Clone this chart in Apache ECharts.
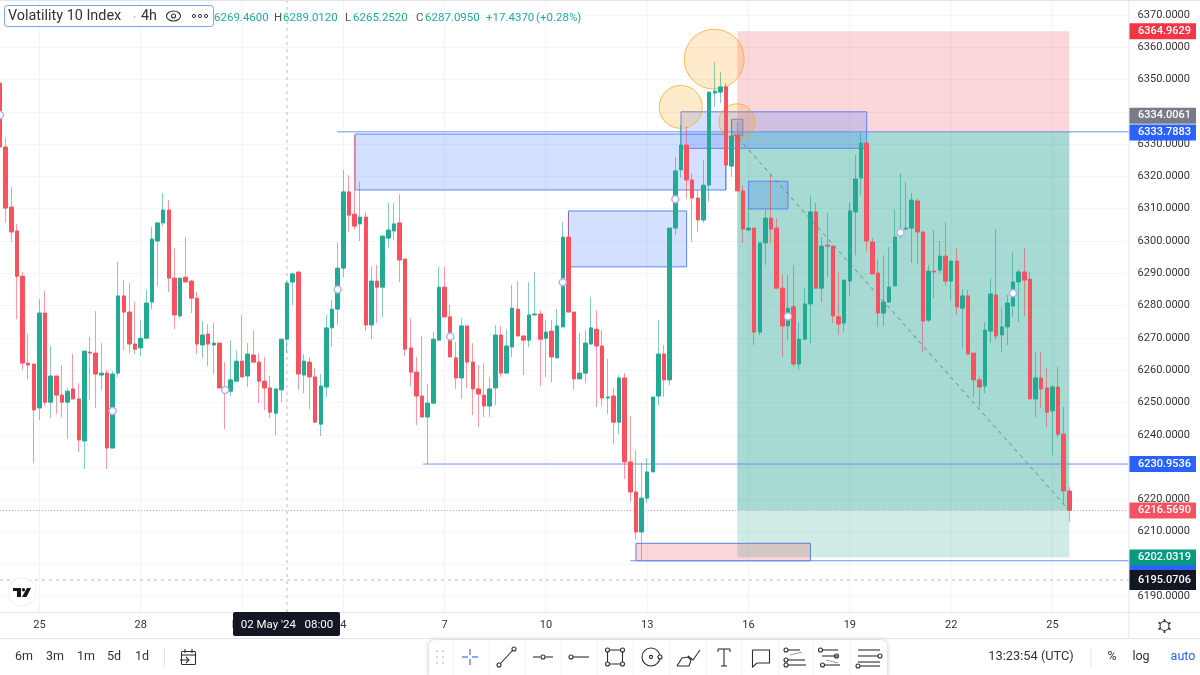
<!DOCTYPE html>
<html>
<head>
<meta charset="utf-8">
<title>Volatility 10 Index</title>
<style>html,body{margin:0;padding:0;background:#fff}#chart{width:1200px;height:675px}</style>
<script src="https://cdn.jsdelivr.net/npm/echarts@6/dist/echarts.min.js"></script>
</head>
<body>
<div id="chart"></div>
<script>
// 4h bars
const opens = [
  6348.9,6329.1,6310.5,6303.1,6289.1,6262.2,6261.9,6248.3,6277.7,6250.1,
  6258.2,6252.3,6250.1,6254.2,6251.1,6238.1,6265.6,6265.3,6258.5,6259.1,
  6235.9,6259.1,6283,6278,6268.1,6266.9,6269.9,6281.1,6300,6305.6,
  6309.6,6288.5,6276.8,6288.8,6287.6,6282.3,6267.8,6271.2,6267.8,6268.4,
  6254.5,6253.5,6256.6,6262.8,6258.2,6264.7,6262.5,6256.6,6254.5,6246.7,
  6253.9,6269.6,6287.3,6290.4,6258.5,6262.5,6257.9,6243.3,6254.8,6273.1,
  6278.9,6291.6,6315.2,6308.3,6305.3,6307.4,6274,6287.6,6285.7,6300.9,
  6303.1,6305.6,6294.4,6266.9,6259.4,6252,6245.5,6249.8,6269.3,6285.7,
  6276.5,6263.8,6257.6,6273.7,6262.5,6254.2,6252.3,6248.9,6254.5,6270.9,
  6259.1,6267.2,6278.9,6270.6,6269.3,6277.1,6277.4,6269.9,6272.1,6263.8,
  6273.4,6301.2,6278,6257.3,6259.1,6268.1,6272.7,6267.5,6251.4,6252,
  6243.9,6257.6,6231.6,6222.3,6209.9,6220.4,6228.5,6252,6265,6257,
  6304,6322,6329.7,6318.9,6313.3,6306.5,6317.3,6345.8,6346.1,6347.7,
  6323.2,6332.8,6315.5,6303.4,6304,6271.8,6299.4,6307.1,6304,6285.4,
  6273.7,6279.6,6261.9,6269.6,6280.5,6309,6285.4,6298.7,6298.4,6276.5,
  6274.6,6287.6,6309,6319.5,6330.3,6299.7,6290.1,6277.7,6281.1,6286.1,
  6302.5,6303.7,6304,6312.4,6302.8,6275.5,6290.7,6291,6295.3,6287.6,
  6293.8,6279.2,6283,6265.3,6257,6255.1,6272.1,6283.3,6270.9,6273.4,
  6279.9,6287.3,6290.4,6288.2,6251.1,6257.6,6254.5,6247.4,6254.8,6240.2,
  6222.6
];
const closes = [
  6329.1,6310.2,6302.8,6289.1,6262.2,6261.6,6247.7,6277.7,6250.1,6258.2,
  6252.3,6250.1,6253.5,6251.1,6238.4,6265.9,6265.3,6258.8,6259.1,6235.9,
  6258.8,6283,6278,6268.1,6266.5,6269.9,6280.8,6300.6,6305.6,6309.6,
  6288.5,6277.1,6288.5,6287.3,6282.3,6268.1,6270.9,6268.1,6268.4,6254.5,
  6253.2,6257,6262.8,6257.9,6265,6262.5,6256.6,6254.5,6247,6254.2,
  6269.6,6287,6289.8,6258.8,6262.8,6257.9,6243.9,6255.1,6273.1,6278.9,
  6291.6,6315.2,6308,6304.6,6307.4,6274,6287.6,6285.7,6301.5,6303.4,
  6305.3,6294.1,6266.5,6259.4,6252,6245.5,6249.8,6269.6,6285.7,6276.5,
  6264.1,6257.6,6273.7,6262.5,6254.2,6252.6,6248.9,6254.2,6270.9,6259.1,
  6267.5,6279.2,6270.6,6269.3,6277.1,6277.4,6269.6,6271.8,6264.1,6273.7,
  6301.2,6278,6257.3,6259.1,6268.4,6273.1,6267.5,6251.4,6251.7,6243.9,
  6257.6,6231.6,6222.3,6209.9,6220.4,6228.5,6251.7,6265,6257,6304,
  6321.7,6329.7,6318.9,6313.3,6306.5,6317.3,6346.1,6346.4,6347.7,6323.5,
  6332.5,6315.5,6303.7,6304,6271.8,6299.4,6307.1,6303.7,6285.4,6273.7,
  6279.2,6261.9,6269.6,6280.5,6309,6285.4,6298.4,6298.4,6276.8,6274.3,
  6287.9,6309.3,6319.2,6330.3,6300,6289.8,6277.7,6281.1,6285.7,6301.2,
  6302.8,6304,6312.7,6302.8,6275.2,6290.7,6290.4,6295.3,6287.6,6293.8,
  6279.6,6283,6265,6257,6254.8,6272.4,6283.6,6270.6,6273.4,6280.8,
  6287.3,6290.4,6287.9,6251.1,6257.6,6254.2,6247,6254.8,6240.2,6222.6,
  6216.6
];
const highs = [
  6349.5,6331.9,6316.7,6305.3,6290.4,6271.2,6261.9,6282,6284.5,6267.5,
  6258.2,6261.6,6254.5,6265,6256,6265.9,6270.3,6278.3,6268.4,6260.1,
  6259.7,6293.5,6287.9,6287,6281.1,6275.5,6284.8,6304.3,6305.6,6314.8,
  6312.7,6297.8,6288.5,6301.2,6287.9,6284.2,6275.2,6274.3,6274.6,6268.4,
  6262.5,6269.3,6266.2,6277.1,6268.4,6272.4,6265.3,6264.1,6258.2,6254.2,
  6269.6,6287.6,6290.1,6290.4,6265,6264.1,6260.7,6258.8,6277.1,6281.7,
  6299.4,6322,6320.4,6332.8,6318.3,6309,6292.2,6292.6,6301.8,6311.8,
  6311.8,6314.5,6294.4,6276.1,6264.1,6270.6,6255.7,6271.8,6291.9,6291.9,
  6280.2,6268.7,6276.1,6273.7,6268.4,6261.6,6262.2,6257.9,6274,6273.7,
  6272.4,6286.4,6287.6,6270.6,6287.3,6290.4,6278.6,6275.5,6275.5,6278.9,
  6305.9,6308.7,6278,6271.5,6272.4,6282.6,6278.6,6272.4,6263.5,6254.5,
  6258.5,6259.1,6245.8,6235.3,6231.3,6232.8,6251.7,6275.5,6267.8,6304,
  6326,6335.9,6335.3,6321,6315.8,6325,6346.1,6355.4,6352.3,6348.9,
  6337.4,6336.8,6317.3,6309.9,6304,6299.4,6309.6,6321,6307.1,6289.5,
  6289.5,6292.6,6274.9,6285.4,6313.9,6311.8,6301.2,6308.7,6298.4,6290.1,
  6287.9,6311.8,6326.6,6333.4,6330.3,6300.9,6294.4,6295.6,6298.1,6309.6,
  6321,6318.3,6314.8,6313.3,6302.8,6292.6,6303.4,6300,6305.9,6293.8,
  6297.8,6285.1,6284.8,6265.3,6257.9,6274.9,6288.5,6303.7,6279.2,6283.3,
  6296.6,6291.3,6297.8,6290.4,6265.6,6265.6,6260.7,6255.4,6261,6248.6,
  6223.8
];
const lows = [
  6328.2,6305.6,6299.7,6275.8,6260.1,6257.3,6231.3,6244.6,6248.9,6245.2,
  6246.4,6245.5,6238.7,6251.1,6234.7,6229.4,6250.8,6248.3,6253.9,6229.4,
  6235.9,6257.9,6266.2,6265.3,6265,6264.4,6269.9,6278.9,6286.1,6304.6,
  6284.2,6272.7,6276.1,6287.3,6277.7,6265,6263.8,6261.3,6258.8,6254.5,
  6241.8,6252,6256.6,6257.9,6254.8,6262.5,6249.8,6247.7,6245.2,6239.9,
  6250.1,6265.3,6280.2,6253.9,6252.9,6248,6243.9,6239.6,6251.7,6267.2,
  6274,6288.8,6302.8,6303.7,6300,6272.1,6269.6,6274.6,6276.5,6297.8,
  6300.3,6287.3,6264.4,6255.1,6243,6245.2,6231,6249.5,6269.3,6276.5,
  6264.1,6254.2,6251.1,6254.5,6246.1,6242.4,6245.5,6245.5,6249.2,6257.9,
  6259.1,6264.1,6270.6,6258.5,6267.2,6277.1,6255.1,6257.9,6256.3,6263.8,
  6273.4,6278,6253.9,6257.3,6256,6268.1,6248.6,6248.9,6246.4,6237.1,
  6240.2,6226.3,6219.2,6207.7,6201.2,6218.9,6228.5,6249.2,6251.7,6255.4,
  6301.8,6319.5,6313,6299.7,6302.8,6305.6,6312.1,6341.5,6342.7,6315.8,
  6319.8,6315.5,6299.4,6303.1,6267.8,6270.9,6292.6,6299.4,6285.4,6264.1,
  6269.3,6261,6260.1,6269.3,6268.4,6285.4,6281.1,6288.8,6274.6,6270.9,
  6271.8,6283,6295.6,6314.2,6296.9,6289.8,6273.4,6273.7,6281.1,6286.1,
  6300.9,6303.4,6293.2,6292.9,6265.6,6274.9,6282.3,6289.8,6286.1,6281.7,
  6277.1,6266.9,6265,6251.7,6248.6,6252.9,6268.4,6269.3,6265.6,6267.8,
  6276.5,6274.9,6276.8,6251.1,6245.5,6248.3,6242.4,6233.7,6239,6218.3,
  6213
];

// time axis: day ticks every 18 bars
const tickIndexes = [7, 25, 43, 61, 79, 97, 115, 133, 151, 169, 187];
const tickLabels = ['25', '28', 'May', '4', '7', '10', '13', '16', '19', '22', '25'];
// price labels the chart hides because a tag sits on them
const hiddenPriceLabels = [6340, 6230, 6200];

// dividend style markers on the bars
const markerBars = [0, 20, 40, 60, 80, 100, 120, 140, 160, 180];
const markerPrices = [6339, 6247.4, 6253.9, 6285, 6270.4, 6287.2, 6312.9, 6276.6, 6302.6, 6283.8];

// drawings: [startBar, topPrice, endBar, bottomPrice]
const riskZone = [[131, 6364.96, 190, 6333.79]];
const rewardHit = [[131, 6333.79, 190, 6216.57]];
const rewardLeft = [[131, 6216.57, 190, 6202.03]];
const blueBoxes = [
  [63.1, 6333.1, 129, 6315.8],
  [101, 6309.3, 122, 6292],
  [121, 6340, 154, 6328.7],
  [130, 6337.7, 132, 6332.6],
  [133, 6318.5, 140, 6309.9]
];
const pinkBox = [[113, 6206.4, 144, 6201]];
// [startBar, price, endBar, price]
const levelLines = [
  [59.9, 6333.79, 200.6, 6333.79],
  [75.2, 6230.95, 200.6, 6230.95],
  [112, 6201, 200.6, 6201]
];
const lastPriceLine = [[0, 6216.57, 200.6, 6216.57]];
const trendLine = [[130.2, 6333.79, 190, 6216.57]];
const crosshairLines = [
  [51, 6374.6, 51, 6185],
  [0, 6195.07, 200.6, 6195.07]
];
// [bar, price, radius in bars]
const circles = [[126.9, 6356.3, 5.33], [120.95, 6341.5, 3.82], [130.95, 6336.9, 3.2]];

// price tags on the axis, the first one is almost covered so it has no text
const tagPrices = [6198.7, 6364.9629, 6334.0061, 6333.7883, 6230.9536, 6216.569, 6202.0319, 6195.0706];
const tagColors = ['#2962ff', '#f23645', '#787b86', '#2962ff', '#2962ff', '#f7525f', '#089981', '#131722'];
const tagShifts = [0, 0, -15.5, 0.6, 0, 0, 0, 0]; // grey tag is pushed up by the blue one

const barCount = 201; // bars plus the empty space right of the last one
const categories = [];
for (let i = 0; i < barCount; i++) {
  categories.push(new Date(Date.UTC(2024, 3, 23, 20 + i * 4)).toISOString().slice(0, 16));
}

const wickData = opens.map((o, i) => [o, closes[i], lows[i], highs[i]]);
const bodyData = opens.map((o, i) => [o, closes[i], Math.min(o, closes[i]), Math.max(o, closes[i])]);

const UP = '#22ab94', DOWN = '#f7525f';
const FONT = 'Roboto, "Open Sans", sans-serif';

// drawings sit on the hidden value axis so they can start between bars
function drawSeries(data, z, shapeFn) {
  return {
    type: 'custom', xAxisIndex: 1, yAxisIndex: 0, z: z, silent: true, clip: false,
    encode: { x: [0, 2], y: [1, 3] },
    data: data,
    renderItem: function (params, api) { return shapeFn(api); }
  };
}
function rectSeries(data, fill, stroke, z) {
  return drawSeries(data, z || 1, function (api) {
    const a = api.coord([api.value(0), api.value(1)]);
    const b = api.coord([api.value(2), api.value(3)]);
    return {
      type: 'rect',
      shape: { x: a[0], y: a[1], width: b[0] - a[0], height: b[1] - a[1] },
      style: { fill: fill, stroke: stroke || 'none', lineWidth: 1 }
    };
  });
}
function lineSeries(data, stroke, dash, z) {
  return drawSeries(data, z || 1, function (api) {
    const a = api.coord([api.value(0), api.value(1)]);
    const b = api.coord([api.value(2), api.value(3)]);
    return {
      type: 'line',
      shape: { x1: a[0], y1: a[1], x2: b[0], y2: b[1] },
      style: { stroke: stroke, lineWidth: 1, lineDash: dash || null }
    };
  });
}

// fixed page furniture: header, toolbars, icons
const ink = '#2a2e39';
const G = [];
function ln(x1, y1, x2, y2, c, w) {
  G.push({ type: 'line', z: 100, shape: { x1, y1, x2, y2 }, style: { stroke: c || ink, lineWidth: w || 1.1 } });
}
function ring(cx, cy, r, c, fill) {
  G.push({ type: 'circle', z: 100, shape: { cx, cy, r }, style: { stroke: c || ink, fill: fill || 'none', lineWidth: 1.1 } });
}
function txt(s, x, y, size, c, align) {
  G.push({ type: 'text', z: 100, x: x, y: y, style: { text: s, fontFamily: FONT, fontSize: size, fill: c || ink, align: align || 'center', verticalAlign: 'middle' } });
}
function poly(points, c, fill) {
  G.push({ type: 'polyline', z: 100, shape: { points }, style: { stroke: c || ink, fill: fill || 'none', lineWidth: 1.1 } });
}

// axis frame
ln(0, 0.5, 1200, 0.5, '#e0e3eb', 1);
ln(1129, 0, 1129, 638, '#e0e3eb', 1);
ln(0, 612.5, 1200, 612.5, '#e0e3eb', 1);
ln(0, 638.5, 1200, 638.5, '#e0e3eb', 1);

// header
[['O', 205, '6269.4600', 214], ['H', 274, '6289.0120', 283], ['L', 345, '6265.2520', 353], ['C', 416, '6287.0950', 425]].forEach(function (p) {
  txt(p[0], p[1], 18, 11.5, '#50535e', 'left');
  txt(p[2], p[3], 18, 11.5, UP, 'left');
});
txt('+17.4370', 486, 18, 11.5, UP, 'left');
txt('(+0.28%)', 536, 18, 11.5, UP, 'left');
G.push({ type: 'rect', z: 101, shape: { x: 4.5, y: 5.5, width: 209, height: 21, r: 3 }, style: { fill: '#fff', stroke: '#7fa3e8', lineWidth: 1 } });
[['Volatility 10 Index', 8, 14.4], ['4h', 141, 14.4]].forEach(function (t) {
  G.push({ type: 'text', z: 102, x: t[1], y: 16, style: { text: t[0], fontFamily: FONT, fontSize: t[2], fill: '#333', align: 'left', verticalAlign: 'middle' } });
});
G.push({ type: 'circle', z: 102, shape: { cx: 134.5, cy: 17, r: 0.8 }, style: { fill: '#9598a1' } });
G.push({ type: 'ellipse', z: 102, shape: { cx: 173.5, cy: 16, rx: 7, ry: 5 }, style: { stroke: ink, fill: 'none', lineWidth: 1.1 } });
G.push({ type: 'circle', z: 102, shape: { cx: 173.5, cy: 16, r: 2 }, style: { stroke: ink, fill: 'none', lineWidth: 1.1 } });
[194, 200, 206].forEach(function (x) {
  G.push({ type: 'circle', z: 102, shape: { cx: x, cy: 16, r: 1.6 }, style: { stroke: ink, fill: 'none', lineWidth: 1 } });
});

// logo
ring(22, 592, 14, '#eef0f5', '#fff');
G.push({ type: 'rect', z: 101, shape: { x: 13, y: 588, width: 8, height: 3 }, style: { fill: '#131722' } });
G.push({ type: 'rect', z: 101, shape: { x: 17, y: 588, width: 4, height: 9 }, style: { fill: '#131722' } });
G.push({ type: 'circle', z: 101, shape: { cx: 23.5, cy: 589.7, r: 1.7 }, style: { fill: '#131722' } });
G.push({ type: 'polygon', z: 101, shape: { points: [[27, 588], [31, 588], [26.5, 597], [22, 597]] }, style: { fill: '#131722' } });

// crosshair date tag
G.push({ type: 'rect', z: 100, shape: { x: 233, y: 612, width: 107, height: 24, r: 2 }, style: { fill: '#131722' } });
txt("02 May '24   08:00", 287, 625, 11.5, '#fff');
// gear
ring(1164.5, 626, 4.5, ink);
[[0, -7], [0, 7], [-6, -3.5], [6, -3.5], [-6, 3.5], [6, 3.5]].forEach(function (d) {
  ln(1164.5 + d[0] * 0.65, 626 + d[1] * 0.65, 1164.5 + d[0], 626 + d[1], ink, 1.6);
});

// range buttons
[['6m', 24], ['3m', 55], ['1m', 86], ['5d', 114], ['1d', 142]].forEach(function (b) { txt(b[0], b[1], 657, 12.5, '#333'); });
ln(164.5, 648, 164.5, 667, '#e0e3eb', 1);
// go to date icon
G.push({ type: 'rect', z: 100, shape: { x: 181.5, y: 651.5, width: 14, height: 13, r: 1 }, style: { stroke: ink, fill: 'none', lineWidth: 1.1 } });
ln(181, 655, 196, 655); ln(185, 649, 185, 653); ln(192, 649, 192, 653); ln(180, 660, 189, 660);
poly([[186, 657], [189, 660], [186, 663]]);

// drawing toolbar
G.push({ type: 'rect', z: 99, shape: { x: 429, y: 640, width: 458, height: 40, r: 6 }, style: { fill: '#fff', shadowBlur: 5, shadowColor: 'rgba(0,0,0,0.25)', shadowOffsetY: 0 } });
[437, 443].forEach(function (x) {
  [651, 657, 663].forEach(function (y) {
    G.push({ type: 'circle', z: 100, shape: { cx: x, cy: y, r: 1 }, style: { fill: '#c8cad2' } });
  });
});
[453, 489, 525, 561, 597, 633, 670, 706, 742, 779, 813, 850].forEach(function (x) { ln(x, 640, x, 675, '#f0f3fa', 1); });
// crosshair tool
ln(462, 657, 468, 657, '#2962ff'); ln(472, 657, 478, 657, '#2962ff'); ln(470, 649, 470, 655, '#2962ff'); ln(470, 659, 470, 665, '#2962ff');
// trend line
ln(500.5, 663.5, 512.5, 650.5); ring(499, 665, 2); ring(514, 649, 2);
// horizontal line
ln(533, 657, 540.5, 657); ln(545.5, 657, 553, 657); ring(543, 657, 2);
// ray
ring(571, 657, 2); ln(573, 657, 589, 657);
// rectangle
G.push({ type: 'rect', z: 100, shape: { x: 607.5, y: 650, width: 15, height: 14 }, style: { stroke: ink, fill: 'none', lineWidth: 1.1 } });
[[607.5, 650], [622.5, 650], [607.5, 664], [622.5, 664]].forEach(function (p) { ring(p[0], p[1], 2, ink, '#fff'); });
// circle
ring(651, 657, 9); ring(651, 657, 1.6); ring(660, 657, 2, ink, '#fff');
// brush
poly([[677, 666], [682, 658], [688, 657], [691, 660], [689, 666], [677, 666]]);
poly([[688, 656], [693, 660], [700, 650]]);
// text tool
ln(718, 649, 730, 649); ln(724, 649, 724, 666); ln(721, 666, 727, 666); ln(718, 649, 718, 652); ln(730, 649, 730, 652);
// callout
poly([[752.5, 650], [769.5, 650], [769.5, 663], [757, 663], [752.5, 667], [752.5, 650]]);
// fib and pattern tools
[[786, 650, 800], [786, 660, 805], [786, 665, 806]].forEach(function (l) { ring(l[0], l[1], 2); ln(l[0] + 2, l[1], l[2], l[1]); });
ln(790, 655, 802, 652, '#999', 1);
[[822, 650, 838], [838, 656, 822], [824, 665, 840]].forEach(function (l) { ln(l[0], l[1], l[2], l[1]); ring(l[0] - 1.5, l[1], 2); });
ln(826, 660, 838, 663, '#999', 1);
[[858, 650, 880], [858, 656, 878], [858, 662, 880], [860, 666, 880]].forEach(function (l) { ln(l[0], l[1], l[2], l[1]); });
ring(880, 656, 2); ring(858, 666, 2);

// right side of bottom bar
txt('13:23:54 (UTC)', 1031, 657, 12.8, '#333');
ln(1091, 648, 1091, 667, '#e0e3eb', 1);
txt('%', 1112, 657, 12.5, '#333');
txt('log', 1141, 657, 12.5, '#333');
txt('auto', 1183, 657, 12.5, '#2962ff');

const option = {
  animation: false,
  backgroundColor: '#fff',
  textStyle: { fontFamily: FONT },
  grid: { left: 0, top: 14.9, width: 1125.6, height: 581.4 },
  xAxis: [
    {
      type: 'category', data: categories, boundaryGap: false, offset: 16,
      axisLine: { show: false }, axisTick: { show: false }, splitLine: { show: false },
      axisLabel: {
        color: '#333', fontSize: 11, margin: 7,
        interval: function (i) { return tickIndexes.indexOf(i) >= 0; },
        formatter: function (v, i) { return tickLabels[tickIndexes.indexOf(i)]; }
      }
    },
    { type: 'value', min: 0, max: 200, show: false, splitLine: { show: false } }
  ],
  yAxis: {
    type: 'value', position: 'right', min: 6190, max: 6370, interval: 10, offset: 3.4, scale: true,
    axisLine: { show: false }, axisTick: { show: false },
    splitLine: { lineStyle: { color: '#f3f5fa' } },
    axisLabel: {
      color: '#333', fontSize: 11, margin: 8.6,
      formatter: function (v) { return hiddenPriceLabels.indexOf(v) >= 0 ? '' : v.toFixed(4); }
    }
  },
  graphic: G,
  series: [
    // day grid lines run the full pane height
    lineSeries(tickIndexes.map(function (i) { return [i, 6374.6, i, 6185]; }), '#f0f3fa', null, 0),
    rectSeries(riskZone, 'rgba(242,54,69,0.2)'),
    rectSeries(rewardHit, 'rgba(8,153,129,0.36)'),
    rectSeries(rewardLeft, 'rgba(8,153,129,0.2)'),
    rectSeries(blueBoxes, 'rgba(41,98,255,0.2)', '#5b86ee'),
    rectSeries(pinkBox, 'rgba(242,54,69,0.2)', '#5b7fd8'),
    drawSeries(circles, 1, function (api) {
      const c = api.coord([api.value(0), api.value(1)]);
      const edge = api.coord([api.value(0) + api.value(2), api.value(1)]);
      return {
        type: 'circle',
        shape: { cx: c[0], cy: c[1], r: edge[0] - c[0] },
        style: { fill: 'rgba(255,152,0,0.2)', stroke: 'rgba(245,166,35,0.75)', lineWidth: 1 }
      };
    }),
    lineSeries(levelLines, '#6d90e8'),
    lineSeries(lastPriceLine, '#f7a0a8', [1, 2]),
    lineSeries(trendLine, '#6a8a84', [4, 4], 4),
    lineSeries(crosshairLines, '#b8bac2', [3, 4]),
    {
      type: 'candlestick', name: 'wicks', z: 2, barWidth: 1, silent: true,
      data: wickData,
      itemStyle: { color: 'rgba(8,153,129,0.5)', color0: 'rgba(242,54,69,0.5)', borderColor: 'rgba(8,153,129,0.5)', borderColor0: 'rgba(242,54,69,0.5)', borderWidth: 1 }
    },
    {
      type: 'candlestick', name: 'Volatility 10 Index', z: 3, barWidth: 4, silent: true,
      data: bodyData,
      itemStyle: { color: UP, color0: DOWN, borderColor: UP, borderColor0: DOWN, borderWidth: 1 }
    },
    {
      type: 'scatter', name: 'markers', z: 4, silent: true, symbolSize: 7,
      data: markerBars.map(function (b, i) { return [b, markerPrices[i]]; }),
      itemStyle: { color: '#fff', borderColor: '#aeb4ee', borderWidth: 1.5, opacity: 1 }
    },
    {
      // axis tags, text comes from the tag prices
      type: 'custom', xAxisIndex: 1, yAxisIndex: 0, z: 20, silent: true, clip: false,
      encode: { y: 0 },
      data: tagPrices.map(function (p) { return [p]; }),
      renderItem: function (params, api) {
        const i = params.dataIndex;
        const y = api.coord([0, api.value(0)])[1] + tagShifts[i];
        const tall = i === 7 ? 10 : 8;
        return {
          type: 'group',
          children: [
            { type: 'rect', shape: { x: 1129, y: y - tall, width: 67, height: tall * 2 }, style: { fill: tagColors[i] } },
            { type: 'text', x: 1138, y: y, style: { text: i === 0 ? '' : tagPrices[i].toFixed(4), fill: '#fff', fontFamily: FONT, fontSize: 11, fontWeight: 500, verticalAlign: 'middle', align: 'left' } }
          ]
        };
      }
    }
  ]
};

const chart = echarts.init(document.getElementById('chart'));
chart.setOption(option);
</script>
</body>
</html>
